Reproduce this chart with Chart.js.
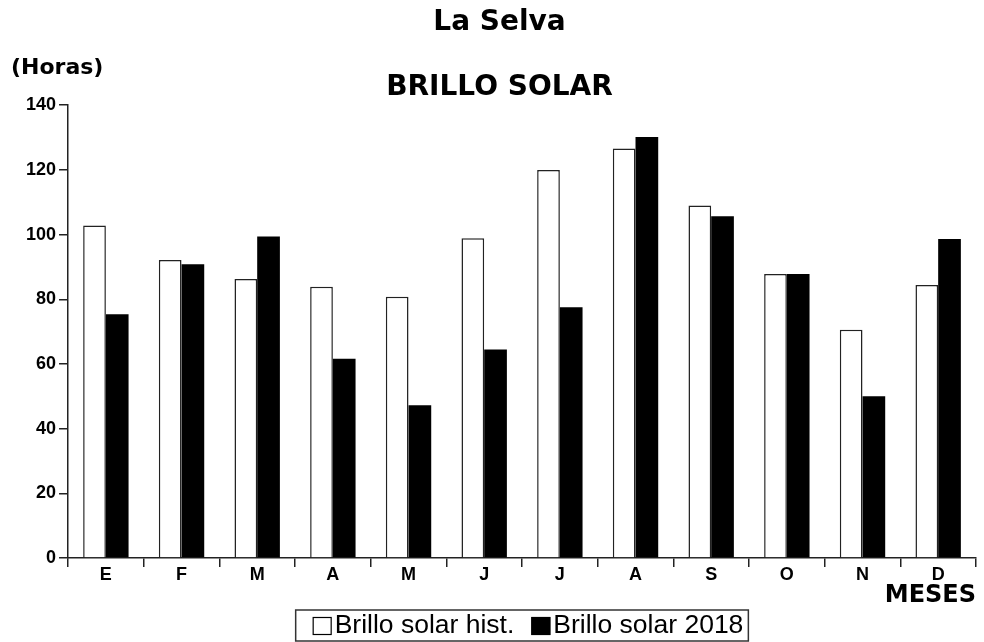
<!DOCTYPE html>
<html>
<head>
<meta charset="utf-8">
<script src="https://cdn.jsdelivr.net/npm/chart.js@4/dist/chart.umd.min.js"></script>
<style>
html,body{margin:0;padding:0;background:#fff;}
#wrap{width:984px;height:642px;position:relative;}
</style>
</head>
<body>
<div id="wrap"><canvas id="c" width="984" height="642"></canvas></div>
<script>
const chartTitle = "La Selva";
const chartSubtitle = "BRILLO SOLAR";
const yAxisLabel = "(Horas)";
const xAxisLabel = "MESES";
const months = ["E","F","M","A","M","J","J","A","S","O","N","D"];
const histLabel = "Brillo solar hist.";
const label2018 = "Brillo solar 2018";
const histValues = [102.8, 92.1, 86.3, 83.9, 80.8, 98.9, 120.0, 126.6, 109.0, 87.8, 70.6, 84.4];
const values2018 = [75.4, 90.8, 99.4, 61.6, 47.2, 64.5, 77.5, 130.2, 105.7, 87.8, 50.0, 98.6];
const yMin = 0, yMax = 140, yStep = 20;

const tickFont = {family: "'Liberation Sans', Arial, sans-serif", size: 18, weight: 'bold', lineHeight: 1};
const titleFont = {family: "'DejaVu Sans', sans-serif", size: 28, weight: 'bold', lineHeight: 1.2};

const extras = {
  id: 'extras',
  afterDraw(chart) {
    const ctx = chart.ctx;
    const area = chart.chartArea;
    ctx.save();
    // y axis unit label
    ctx.fillStyle = '#000';
    ctx.font = "bold 22px 'DejaVu Sans', sans-serif";
    ctx.textAlign = 'left';
    ctx.textBaseline = 'middle';
    ctx.fillText(yAxisLabel, 11, 68);
    // legend
    const ds = chart.data.datasets;
    ctx.font = "26.5px 'Liberation Sans', Arial, sans-serif";
    const tw = ds.map(d => ctx.measureText(d.label).width);
    const box = 19, padL = 17, padR = 5, gapTxt = 3, gapItem = 17;
    const W = padL + box + gapTxt + tw[0] + gapItem + box + gapTxt + tw[1] + padR;
    const cx = (area.left + area.right) / 2;
    const lx = cx - W / 2;
    const ly = chart.height - 32, lh = 31;
    ctx.strokeStyle = '#333';
    ctx.lineWidth = 1.5;
    ctx.strokeRect(lx, ly, W, lh);
    let x = lx + padL;
    const cy = ly + lh / 2 + 0.5;
    ds.forEach((d, i) => {
      ctx.fillStyle = d.backgroundColor;
      ctx.fillRect(x, cy - 9, box, 18);
      ctx.strokeStyle = '#000';
      ctx.lineWidth = 1.2;
      ctx.strokeRect(x + 0.5, cy - 9 + 0.5, box - 1, 17);
      x += box + gapTxt;
      ctx.fillStyle = '#000';
      ctx.textBaseline = 'middle';
      ctx.fillText(d.label, x, cy);
      x += tw[i] + gapItem;
    });
    ctx.restore();
  }
};

new Chart(document.getElementById('c'), {
  type: 'bar',
  data: {
    labels: months,
    datasets: [
      {label: histLabel, data: histValues, backgroundColor: '#ffffff', borderColor: '#222', borderWidth: 1.5},
      {label: label2018, data: values2018, backgroundColor: '#000000', borderColor: '#000', borderWidth: 0}
    ]
  },
  options: {
    responsive: false,
    devicePixelRatio: 1,
    animation: false,
    layout: {padding: {left: 23, right: 8, top: 0, bottom: 34}},
    datasets: {bar: {categoryPercentage: 0.6, barPercentage: 1.0}},
    plugins: {
      legend: {display: false},
      tooltip: {enabled: false},
      title: {display: true, text: chartTitle, color: '#000', font: titleFont, padding: {top: 6, bottom: 31}},
      subtitle: {display: true, text: chartSubtitle, color: '#000', font: titleFont, padding: {top: 0, bottom: 1}}
    },
    scales: {
      x: {
        grid: {display: true, drawOnChartArea: false, drawTicks: true, tickLength: 9, color: '#222', lineWidth: 1.5, offset: true},
        border: {display: true, color: '#222', width: 1.5},
        ticks: {color: '#000', font: tickFont, padding: -1, maxRotation: 0},
        title: {display: true, text: xAxisLabel, align: 'end', color: '#000', font: {family: "'DejaVu Sans', sans-serif", size: 24, weight: 'bold', lineHeight: 1}, padding: {top: 1, bottom: 0}}
      },
      y: {
        min: yMin, max: yMax,
        grid: {display: true, drawOnChartArea: false, drawTicks: true, tickLength: 9, color: '#222', lineWidth: 1.5},
        border: {display: true, color: '#222', width: 1.5},
        ticks: {stepSize: yStep, color: '#000', font: tickFont, padding: 3}
      }
    }
  },
  plugins: [extras]
});
</script>
</body>
</html>
